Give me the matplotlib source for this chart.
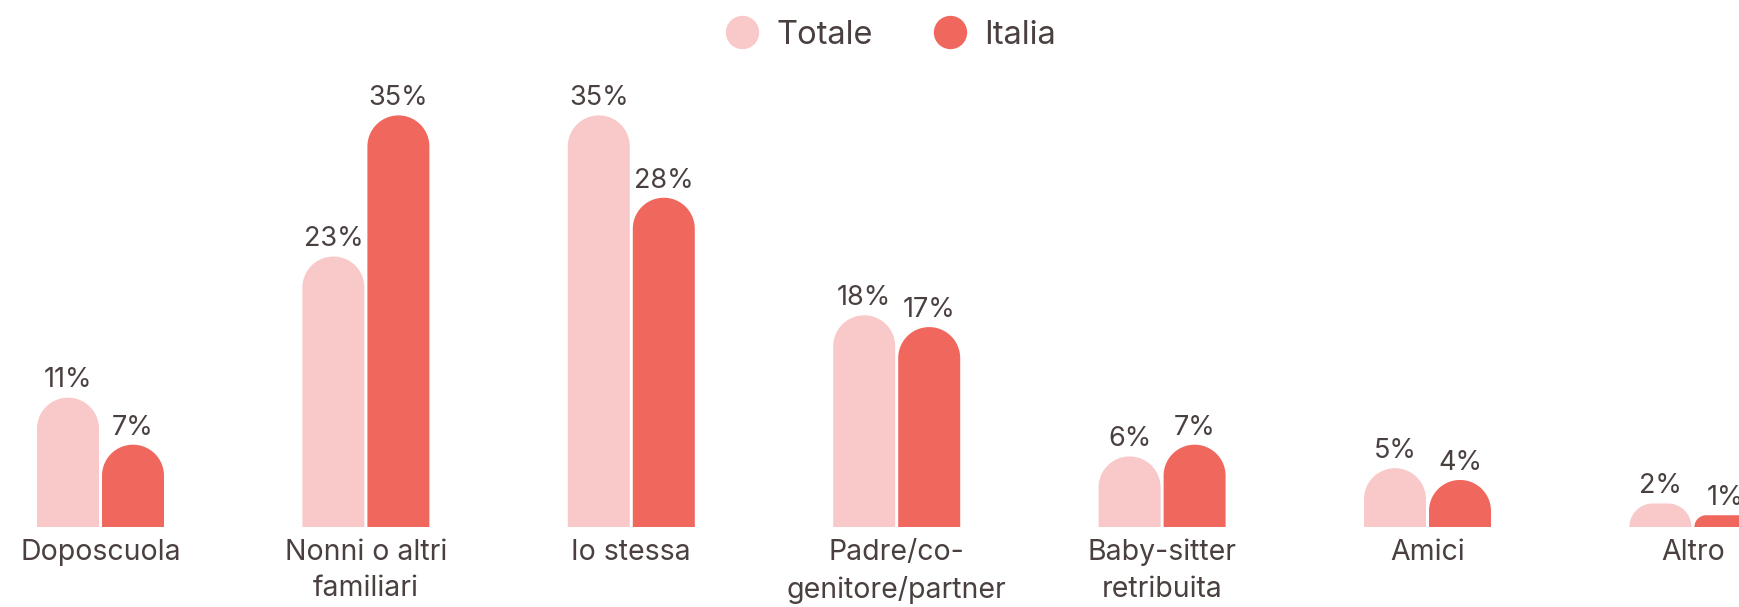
import numpy as np
import matplotlib.pyplot as plt
from matplotlib.path import Path
from matplotlib.patches import PathPatch
from matplotlib.lines import Line2D

plt.rcParams['font.family'] = ['Inter', 'DejaVu Sans']

# dati
categorie = ["Doposcuola", "Nonni o altri\nfamiliari", "Io stessa", "Padre/co-\ngenitore/partner",
             "Baby-sitter\nretribuita", "Amici", "Altro"]
totale = [11, 23, 35, 18, 6, 5, 2]
italia = [7, 35, 28, 17, 7, 4, 1]
serie = ["Totale", "Italia"]
colori = ["#F9C8C8", "#F0675E"]
testo = "#4A4040"

W, H, DPI = 1740, 607, 100
fig = plt.figure(figsize=(W / DPI, H / DPI), dpi=DPI)
base_px = 80
ax = fig.add_axes([0, base_px / H, 1, 1 - base_px / H])
px_per_pct = 11.76
px_per_grp = 265.4
ax.set_xlim(-100.5 / px_per_grp, (W - 100.5) / px_per_grp)
ax.set_ylim(0, (H - base_px) / px_per_pct)
ax.axis("off")

bar_w = 62 / px_per_grp
offset = 32.5 / px_per_grp


def barra(cx, h, color):
    # barra con angoli superiori arrotondati (raggio = metà larghezza)
    h_px = h * px_per_pct
    r_px = min(31, h_px)
    rx = r_px / px_per_grp
    ry = r_px / px_per_pct
    x0, x1 = cx - bar_w / 2, cx + bar_w / 2
    t = np.linspace(np.pi, np.pi / 2, 20)
    left = np.column_stack([x0 + rx + rx * np.cos(t), h - ry + ry * np.sin(t)])
    t = np.linspace(np.pi / 2, 0, 20)
    right = np.column_stack([x1 - rx + rx * np.cos(t), h - ry + ry * np.sin(t)])
    verts = np.vstack([[x0, 0], left, right, [x1, 0], [x0, 0]])
    codes = [Path.MOVETO] + [Path.LINETO] * (len(verts) - 2) + [Path.CLOSEPOLY]
    ax.add_patch(PathPatch(Path(verts, codes), facecolor=color, edgecolor="none"))


x = np.arange(len(categorie))
for i in x:
    for vals, sgn, col in [(totale, -1, colori[0]), (italia, 1, colori[1])]:
        cx = i + sgn * offset
        barra(cx, vals[i], col)
        ax.annotate(f"{vals[i]}%", (cx, vals[i]), xytext=(0, 3), textcoords="offset points",
                    ha="center", va="bottom", fontsize=19.5, color=testo)
    ax.annotate(categorie[i], (i, 0), xytext=(0, -8.5), textcoords="offset points",
                ha="center", va="top", fontsize=20.5, color=testo, linespacing=1.45,
                annotation_clip=False)

handles = [Line2D([], [], marker="o", linestyle="none", markersize=24,
                  markerfacecolor=c, markeredgecolor="none") for c in colori]
fig.legend(handles, serie, loc="upper center", bbox_to_anchor=(0.512, 1.016), ncol=2,
           frameon=False, fontsize=23.5, labelcolor=testo, handlelength=1.0,
           handletextpad=0.55, columnspacing=1.85)

fig.savefig("out.png", dpi=DPI)
